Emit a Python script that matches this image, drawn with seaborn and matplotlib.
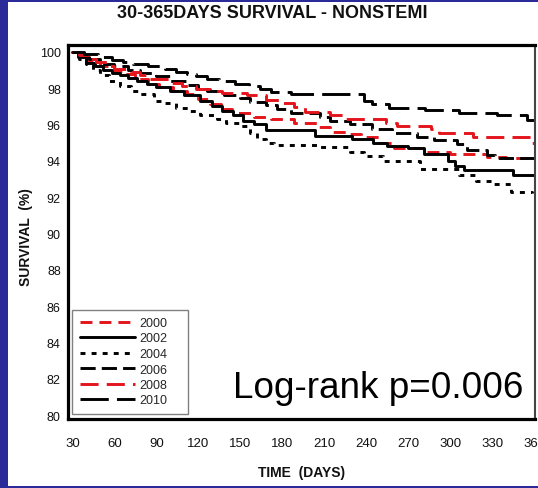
import matplotlib
matplotlib.use("Agg")
import matplotlib.pyplot as plt
from matplotlib.patches import Rectangle
import pandas as pd
import seaborn as sns

# Kaplan-Meier step points (day, survival %) for each admission year
years = ["2000", "2002", "2004", "2006", "2008", "2010"]

days_2000 = [30, 36, 42, 50, 58, 66, 75, 84, 92, 102, 112, 120, 128, 136, 144,
             160, 172, 188, 205, 214, 226, 236, 250, 260, 282, 300, 326, 340, 360]
surv_2000 = [100, 99.7, 99.45, 99.2, 98.95, 98.75, 98.5, 98.25, 98.05, 97.85, 97.65,
             97.4, 97.1, 96.85, 96.6, 96.4, 96.3, 96.05, 95.85, 95.6, 95.45, 95.3,
             94.95, 94.7, 94.5, 94.37, 94.2, 94.15, 94.15]

days_2002 = [30, 34, 40, 46, 52, 58, 64, 70, 76, 83, 90, 100, 110, 121, 130, 137,
             145, 152, 160, 168, 203, 230, 245, 255, 270, 281, 298, 303, 310, 345, 360]
surv_2002 = [100, 99.7, 99.4, 99.2, 99.0, 98.85, 98.7, 98.55, 98.4, 98.2, 98.05,
             97.85, 97.6, 97.3, 97.0, 96.75, 96.5, 96.2, 96.0, 95.7, 95.35, 95.2,
             94.95, 94.8, 94.7, 94.35, 94.0, 93.7, 93.5, 93.2, 93.2]

days_2004 = [30, 35, 40, 45, 50, 56, 64, 72, 78, 88, 96, 104, 114, 121, 133, 140,
             150, 157, 162, 168, 174, 205, 228, 238, 252, 278, 306, 318, 330, 343, 358]
surv_2004 = [100, 99.6, 99.3, 99.0, 98.7, 98.4, 98.1, 97.85, 97.65, 97.3, 97.15,
             96.9, 96.75, 96.5, 96.3, 96.1, 95.9, 95.5, 95.2, 94.95, 94.85, 94.75,
             94.5, 94.25, 94.0, 93.55, 93.2, 92.9, 92.7, 92.3, 92.2]

days_2006 = [30, 35, 42, 50, 60, 70, 78, 90, 100, 112, 120, 126, 138, 150, 157,
             168, 176, 186, 207, 214, 228, 244, 258, 276, 288, 305, 312, 326, 332, 360]
surv_2006 = [100, 99.8, 99.6, 99.35, 99.2, 99.0, 98.85, 98.65, 98.4, 98.15, 97.95,
             97.85, 97.6, 97.45, 97.25, 97.05, 96.85, 96.6, 96.4, 96.2, 96.0, 95.75,
             95.5, 95.3, 95.15, 94.9, 94.6, 94.3, 94.15, 94.15]

days_2008 = [30, 35, 42, 47, 55, 60, 72, 78, 85, 100, 108, 118, 128, 137, 155, 168,
             178, 188, 196, 214, 224, 254, 262, 286, 292, 316, 358, 360]
surv_2008 = [100, 99.8, 99.6, 99.45, 99.2, 99.05, 98.9, 98.7, 98.5, 98.3, 98.1,
             97.95, 97.85, 97.7, 97.6, 97.35, 97.15, 96.95, 96.7, 96.5, 96.3, 96.1,
             95.93, 95.75, 95.55, 95.3, 95.0, 95.0]

days_2010 = [30, 38, 48, 58, 66, 73, 84, 96, 104, 112, 118, 126, 135, 146, 156, 164,
             172, 186, 238, 244, 256, 282, 306, 333, 355, 360]
surv_2010 = [100, 99.85, 99.7, 99.55, 99.45, 99.32, 99.2, 99.05, 98.9, 98.75, 98.65,
             98.5, 98.4, 98.25, 98.1, 97.95, 97.8, 97.65, 97.3, 97.1, 96.9, 96.8,
             96.65, 96.5, 96.25, 96.25]

x_ticks = [30, 60, 90, 120, 150, 180, 210, 240, 270, 300, 330, 360]
y_ticks = [80, 82, 84, 86, 88, 90, 92, 94, 96, 98, 100]

series = {
    "2000": (days_2000, surv_2000),
    "2002": (days_2002, surv_2002),
    "2004": (days_2004, surv_2004),
    "2006": (days_2006, surv_2006),
    "2008": (days_2008, surv_2008),
    "2010": (days_2010, surv_2010),
}
df = pd.concat(
    [pd.DataFrame({"day": d, "survival": s, "year": y}) for y, (d, s) in series.items()],
    ignore_index=True,
)

RED = "#e3141b"
LW = 2.1
palette = {"2000": RED, "2002": "black", "2004": "black",
           "2006": "black", "2008": RED, "2010": "black"}
dashes = {"2000": (4.1, 2.4), "2002": "", "2004": (1.7, 2.1),
          "2006": (5.2, 2.1), "2008": (6.2, 2.8), "2010": (9.7, 2.8)}

sns.set_style("white")
plt.rcParams["font.family"] = ["Liberation Sans", "DejaVu Sans"]

fig = plt.figure(figsize=(5.38, 4.89), dpi=100, facecolor="#2a2a98")
fig.add_artist(Rectangle((8 / 538, 1 - 487 / 489), 530 / 538, 484 / 489,
                         transform=fig.transFigure, facecolor="white",
                         edgecolor="none", zorder=-1))

ax = fig.add_axes([68 / 538, 1 - 420 / 489, 467 / 538, 374 / 489])
ax.set_facecolor("white")

sns.lineplot(data=df, x="day", y="survival", hue="year", style="year",
             palette=palette, dashes=dashes, estimator=None, sort=False,
             drawstyle="steps-post", linewidth=LW, ax=ax, legend="full")

ax.set_xlim(26.9, 360.5)
ax.set_ylim(79.78, 100.37)
ax.set_xticks(x_ticks)
ax.set_yticks(y_ticks)
ax.set_xlabel("")
ax.set_ylabel("")
ax.tick_params(axis="x", direction="out", length=4, width=1, color="#555555",
               labelsize=9.5, pad=9, labelcolor="#111111")
ax.tick_params(axis="y", direction="out", length=4, width=1, color="#555555",
               labelsize=9, pad=1.2, labelcolor="#111111")

for side in ["left", "bottom", "top"]:
    ax.spines[side].set_linewidth(2.3)
    ax.spines[side].set_color("black")
ax.spines["right"].set_linewidth(1.5)
ax.spines["right"].set_color("#444444")

handles, labels = ax.get_legend_handles_labels()
leg = ax.legend(handles, labels, loc="lower left",
                bbox_to_anchor=(4 / 467, 5 / 374, 116 / 467, 109 / 374),
                mode="expand", borderaxespad=0, fontsize=9, handlelength=4.4,
                handletextpad=0.4, labelspacing=0.28, borderpad=0.6,
                frameon=True, fancybox=False, framealpha=1, title=None)
leg.get_frame().set_edgecolor("#808080")
leg.get_frame().set_linewidth(1.0)
for h in leg.legend_handles:
    h.set_linewidth(LW)

fig.text(233 / 538, 1 - 398 / 489, "Log-rank p=0.006", fontsize=26.6,
         ha="left", va="baseline", color="black")

fig.text(272 / 538, 1 - 14 / 489, "30-365DAYS SURVIVAL - NONSTEMI", fontsize=13,
         fontweight="bold", ha="center", va="center", color="#111111")
fig.text(302 / 538, 1 - 473 / 489, "TIME  (DAYS)", fontsize=10,
         fontweight="bold", ha="center", va="center", color="#111111")
fig.text(26 / 538, 1 - 237 / 489, "SURVIVAL  (%)", fontsize=10,
         fontweight="bold", ha="center", va="center", rotation=90, color="#111111")

fig.savefig("out.png", dpi=100, facecolor=fig.get_facecolor())
